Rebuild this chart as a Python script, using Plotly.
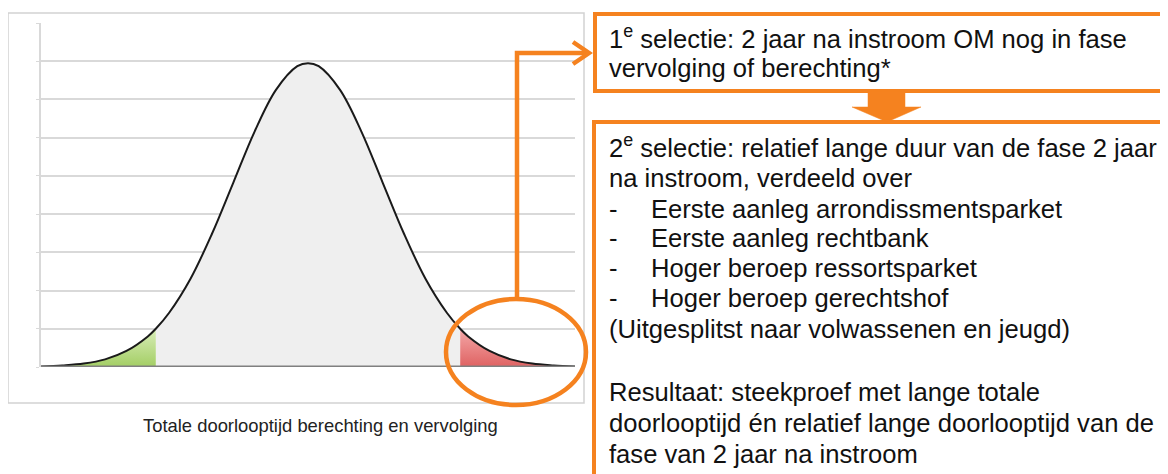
import plotly.graph_objects as go

W, H = 1168, 474
OFF = 8  # page body margin of the browser

# ---- data ----
curve_x = [0, 4, 8, 12, 16, 20, 21.5, 24, 28, 32, 36, 40, 44, 48, 50,
           52, 56, 60, 64, 68, 72, 76, 78.5, 80, 84, 88, 92, 96, 100]
curve_y = [0.01, 0.04, 0.09, 0.20, 0.42, 0.80, 1.00, 1.42, 2.31, 3.48, 4.82, 6.16, 7.25, 7.87, 7.95,
           7.87, 7.25, 6.16, 4.82, 3.48, 2.31, 1.42, 1.00, 0.80, 0.42, 0.20, 0.09, 0.04, 0.01]
cut_low = 21.5
cut_high = 78.5
grid_ticks = list(range(0, 10))

caption = "Totale doorlooptijd berechting en vervolging"
box1_lines = ["1<sup>e</sup> selectie: 2 jaar na instroom OM nog in fase",
              "vervolging of berechting*"]
box2_intro = ["2<sup>e</sup> selectie: relatief lange duur van de fase 2 jaar",
              "na instroom, verdeeld over"]
box2_items = ["Eerste aanleg arrondissmentsparket",
              "Eerste aanleg rechtbank",
              "Hoger beroep ressortsparket",
              "Hoger beroep gerechtshof"]
box2_rest = ["(Uitgesplitst naar volwassenen en jeugd)",
             "",
             "Resultaat: steekproef met lange totale",
             "doorlooptijd én relatief lange doorlooptijd van de",
             "fase van 2 jaar na instroom"]

ORANGE = "#F5821F"
FONT = "Liberation Sans, Arial, sans-serif"


def px(x):
    return (x - OFF) / W


def py(y):
    return 1 - (y - OFF) / H


def seg(lo, hi):
    xs, ys = [], []
    for a, b in zip(curve_x, curve_y):
        if lo <= a <= hi:
            xs.append(a)
            ys.append(b)
    return xs, ys


fig = go.Figure()

gx, gy = seg(cut_low, cut_high)
fig.add_trace(go.Scatter(x=gx, y=gy, mode="lines", fill="tozeroy",
                         fillcolor="#efefef", line=dict(width=0, shape="spline"),
                         hoverinfo="skip", showlegend=False))
lx, ly = seg(min(curve_x), cut_low)
fig.add_trace(go.Scatter(x=lx, y=ly, mode="lines", fill="tozeroy",
                         fillgradient=dict(type="vertical", start=0, stop=1,
                                           colorscale=[[0, "#a3ce64"], [1, "#d9edb9"]]),
                         line=dict(width=0, shape="spline"),
                         hoverinfo="skip", showlegend=False))
rx, ry = seg(cut_high, max(curve_x))
fig.add_trace(go.Scatter(x=rx, y=ry, mode="lines", fill="tozeroy",
                         fillgradient=dict(type="vertical", start=0, stop=1,
                                           colorscale=[[0, "#df6262"], [1, "#f4a8a8"]]),
                         line=dict(width=0, shape="spline"),
                         hoverinfo="skip", showlegend=False))
fig.add_trace(go.Scatter(x=curve_x, y=curve_y, mode="lines",
                         line=dict(color="#1a1a1a", width=2, shape="spline"),
                         hoverinfo="skip", showlegend=False))

shapes = []
# chart frame
shapes.append(dict(type="rect", xref="paper", yref="paper",
                   x0=px(8), x1=px(584), y0=py(403), y1=py(13),
                   line=dict(color="#d2d2d2", width=1.5), layer="below"))
# baseline
shapes.append(dict(type="line", xref="x", yref="y", x0=min(curve_x), x1=max(curve_x),
                   y0=0, y1=0, line=dict(color="#808080", width=3)))
# orange ellipse
shapes.append(dict(type="circle", xref="paper", yref="paper",
                   x0=px(446), x1=px(586), y0=py(405), y1=py(299),
                   line=dict(color=ORANGE, width=4.5)))
# connector
shapes.append(dict(type="path", xref="paper", yref="paper",
                   path=f"M {px(517)} {py(299)} L {px(517)} {py(53)} L {px(588)} {py(53)}",
                   line=dict(color=ORANGE, width=4.5)))
shapes.append(dict(type="path", xref="paper", yref="paper",
                   path=f"M {px(573)} {py(42)} L {px(589)} {py(53)} L {px(573)} {py(64)}",
                   line=dict(color=ORANGE, width=4.5)))
# boxes
shapes.append(dict(type="rect", xref="paper", yref="paper",
                   x0=px(595), x1=px(1185), y0=py(91), y1=py(14),
                   line=dict(color=ORANGE, width=4)))
shapes.append(dict(type="rect", xref="paper", yref="paper",
                   x0=px(594), x1=px(1185), y0=py(495), y1=py(122),
                   line=dict(color=ORANGE, width=4)))
# down block arrow
pts = [(868, 91), (905, 91), (905, 107), (921, 107), (887, 122), (852, 107), (868, 107)]
path = "M " + " L ".join(f"{px(a)} {py(b)}" for a, b in pts) + " Z"
shapes.append(dict(type="path", xref="paper", yref="paper", path=path,
                   fillcolor=ORANGE, line=dict(color=ORANGE, width=0.5)))

annotations = []
FS = 25.6
TXT = "#111111"


def line_ann(text, x, baseline, size=FS, anchor="left", color=TXT):
    annotations.append(dict(text=text, xref="paper", yref="paper",
                            x=px(x), y=py(baseline + 0.21 * size + 1),
                            xanchor=anchor, yanchor="bottom", showarrow=False,
                            font=dict(family=FONT, size=size, color=color)))


line_ann(caption, 320, 433, size=18.4, anchor="center", color="#222222")

b1 = [49, 78]
for t, b in zip(box1_lines, b1):
    line_ann(t, 607, b)

b2 = [158, 188]
for t, b in zip(box2_intro, b2):
    line_ann(t, 607, b)

bi = [219, 248, 278, 308]
for t, b in zip(box2_items, bi):
    line_ann("-", 607, b)
    line_ann(t, 649, b)

br = [339, 370, 402, 433, 464]
for t, b in zip(box2_rest, br):
    if t:
        line_ann(t, 607, b)

fig.update_layout(
    width=W, height=H, autosize=False,
    margin=dict(l=0, r=0, t=0, b=0),
    paper_bgcolor="white", plot_bgcolor="white",
    shapes=shapes, annotations=annotations,
    xaxis=dict(domain=[px(41), px(575)], range=[min(curve_x), max(curve_x)],
               showgrid=False, zeroline=False, showticklabels=False, showline=False),
    yaxis=dict(domain=[py(367), py(23)], range=[0, 9], tickvals=grid_ticks,
               showgrid=True, gridcolor="#d9d9d9", gridwidth=1.5,
               zeroline=False, showticklabels=False,
               showline=True, linecolor="#d9d9d9", linewidth=1.5,
               ticks="outside", ticklen=3, tickcolor="#d9d9d9"),
)

fig.write_html("out.html")
